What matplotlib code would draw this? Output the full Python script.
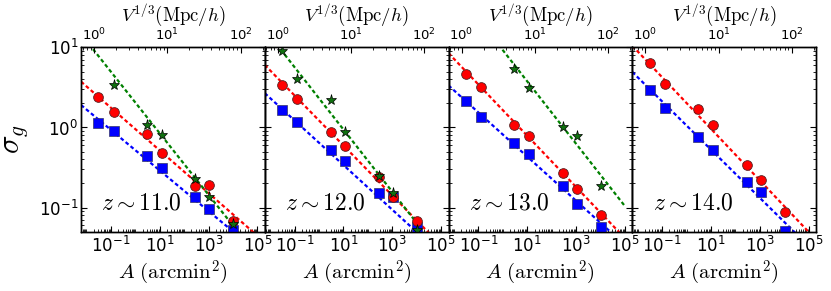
import numpy as np
import matplotlib
matplotlib.use("Agg")
import matplotlib.pyplot as plt
from matplotlib.ticker import FixedLocator, LogLocator, NullFormatter

plt.rcParams.update({
    "font.family": "DejaVu Sans", "mathtext.fontset": "cm",
    "axes.linewidth": 1.0, "xtick.direction": "in", "ytick.direction": "in",
    "xtick.major.size": 4, "ytick.major.size": 4,
    "xtick.minor.size": 2, "ytick.minor.size": 2,
})

# survey areas (arcmin^2), shared by every panel
area = [0.031, 0.13, 3.0, 12.0, 290.0, 1080.0, 10400.0]
redshifts = ["11.0", "12.0", "13.0", "14.0"]

# sigma_g per panel: blue squares, red circles, green stars (nan = off the plot / absent)
sig_blue = [
    [1.15, 0.91, 0.44, 0.31, 0.137, 0.095, 0.053],
    [1.65, 1.18, 0.52, 0.385, 0.153, 0.137, 0.0575],
    [2.14, 1.34, 0.646, 0.462, 0.187, 0.111, 0.0566],
    [2.94, 1.74, 0.754, 0.523, 0.21, 0.158, 0.0513],
]
sig_red = [
    [2.38, 1.56, 0.83, 0.475, 0.187, 0.191, 0.068],
    [3.40, 2.29, 0.886, 0.592, 0.243, 0.134, 0.068],
    [4.67, 3.18, 1.075, 0.783, 0.268, 0.172, 0.080],
    [6.46, 3.47, 1.69, 1.075, 0.34, 0.221, 0.0886],
]
sig_green = [
    [np.nan, 3.40, 1.07, 0.81, 0.225, 0.137, 0.062],
    [9.1, 4.04, 2.21, 0.886, 0.248, 0.150, 0.052],
    [np.nan, np.nan, 5.34, 3.09, 1.02, 0.783, 0.187],
    None,
]

# power-law fits, given by their end values at the two ends of fit_area
fit_area = [0.006, 1e5]
fit_blue = [[1.91, 0.028], [2.68, 0.026], [3.35, 0.0341], [4.94, 0.033]]
fit_red = [[3.74, 0.0444], [6.04, 0.0335], [8.48, 0.0413], [10.5, 0.0495]]
fit_green = [[14.7, 0.0245], [16.9, 0.0262], [68.0, 0.104], None]

XLIM = (0.006, 2e5)
YLIM = (0.05, 10)
A0 = 10 ** -1.69          # area where V^{1/3} = 1 Mpc/h


def to_v(a):
    return (np.asarray(a) / A0) ** (1.0 / 3.0)


DASH = (0, (1.7, 1.2))

fig, axes = plt.subplots(1, 4, figsize=(8.31, 2.91), dpi=100, sharey=True)
fig.subplots_adjust(left=0.0975, right=0.982, bottom=0.204, top=0.837, wspace=0)

for i, ax in enumerate(axes):
    ax.set_xscale("log"); ax.set_yscale("log")
    for fit, col in ((fit_blue[i], "b"), (fit_red[i], "r"), (fit_green[i], "g")):
        if fit is not None:
            ax.plot(fit_area, fit, color=col, lw=1.6, linestyle=DASH, zorder=2)
    ax.plot(area, sig_blue[i], "s", color="b", ms=6.5, mec="#333366", mew=0.5, zorder=3)
    ax.plot(area, sig_red[i], "o", color="r", ms=7, mec="#552222", mew=0.6, zorder=4)
    if sig_green[i] is not None:
        ax.plot(area, sig_green[i], "*", color="#107010", ms=8, mec="k", mew=0.5, zorder=5)

    ax.set_xlim(*XLIM); ax.set_ylim(*YLIM)
    ax.xaxis.set_major_locator(FixedLocator([1e-1, 1e1, 1e3, 1e5]))
    ax.xaxis.set_minor_locator(LogLocator(base=10, subs=np.arange(1, 10), numticks=30))
    ax.xaxis.set_minor_formatter(NullFormatter())
    ax.yaxis.set_major_locator(FixedLocator([1e-1, 1e0, 1e1]))
    ax.yaxis.set_minor_locator(LogLocator(base=10, subs=np.arange(2, 10), numticks=30))
    ax.yaxis.set_minor_formatter(NullFormatter())
    ax.tick_params(which="both", top=False, right=True, labelsize=12, pad=3)
    if i > 0:
        ax.tick_params(labelleft=False)
    ax.set_xlabel(r"$A\ (\mathrm{arcmin}^2)$", fontsize=15, labelpad=2)
    ax.text(0.11, 0.16, r"$z\sim %s$" % redshifts[i], transform=ax.transAxes,
            fontsize=17, va="center", ha="left")

    top = ax.twiny()
    top.set_xscale("log")
    top.set_xlim(*to_v(XLIM))
    top.xaxis.set_major_locator(FixedLocator([1e0, 1e1, 1e2]))
    top.xaxis.set_minor_locator(LogLocator(base=10, subs=np.arange(2, 10), numticks=30))
    top.xaxis.set_minor_formatter(NullFormatter())
    top.tick_params(which="both", labelsize=9.5, pad=3)
    top.set_xlabel(r"$V^{1/3}(\mathrm{Mpc}/h)$", fontsize=13.5, labelpad=4)

axes[0].tick_params(axis="y", pad=2)
axes[0].set_ylabel(r"$\sigma_g$", fontsize=22, labelpad=6)

fig.savefig("out.png", dpi=100)
